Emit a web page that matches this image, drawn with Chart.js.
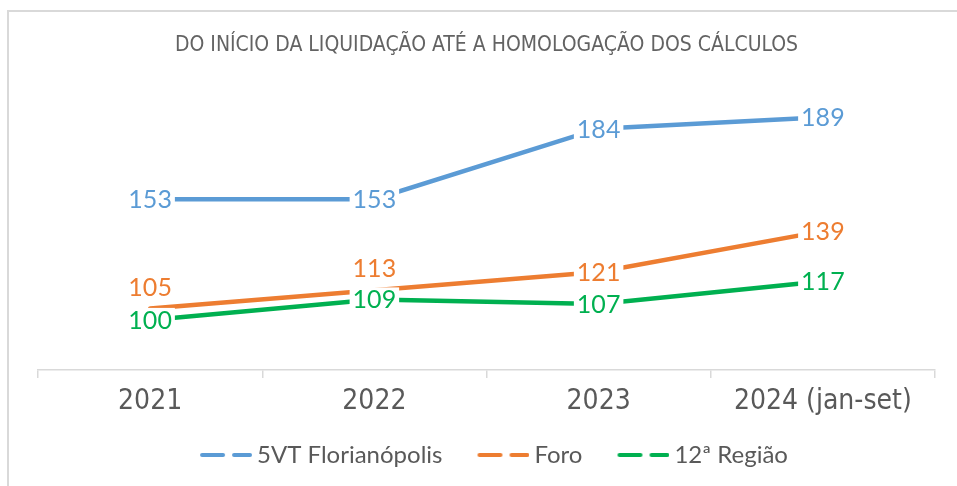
<!DOCTYPE html>
<html>
<head>
<meta charset="utf-8">
<script src="https://cdn.jsdelivr.net/npm/chart.js@4"></script>
<style>
  html, body { margin: 0; padding: 0; background: #fff; }
  #wrap { position: relative; width: 957px; height: 486px; overflow: hidden; }
  #frame { position: absolute; left: 7px; top: 10px; width: 1000px; height: 600px; border: 2px solid #d9d9d9; box-sizing: border-box; }
  #chartContainer { position: absolute; left: 0; top: 0; }
</style>
</head>
<body>
<div id="wrap">
  <div id="frame"></div>
  <canvas id="chartContainer" width="957" height="486"></canvas>
</div>
<script>
// dados do gráfico
const anos = ["2021", "2022", "2023", "2024 (jan-set)"];
const vtFloripa = [153, 153, 184, 189];
const foro = [105, 113, 121, 139];
const regiao12 = [100, 109, 107, 117];
// posição do rótulo: "c" = centro, "t" = acima
const posForo = ["t", "t", "c", "c"];

const azul = "#5B9BD5";
const laranja = "#ED7D31";
const verde = "#00B050";
const cinza = "#595959";
const fonteEstreita = "'DejaVu Sans Condensed', 'Liberation Sans Narrow', sans-serif";
const fonteRotulo = "Lato, 'Noto Sans', sans-serif";

// marcador tracejado da legenda (traços à direita da imagem, perto do texto)
function marcador(cor) {
    const c = document.createElement("canvas");
    c.width = 74;
    c.height = 8;
    const ctx = c.getContext("2d");
    ctx.strokeStyle = cor;
    ctx.lineWidth = 4;
    ctx.lineCap = "round";
    ctx.beginPath();
    ctx.moveTo(24, 4); ctx.lineTo(45, 4);
    ctx.moveTo(56, 4); ctx.lineTo(72, 4);
    ctx.stroke();
    return c;
}
const marcadores = [marcador(azul), marcador(laranja), marcador(verde)];

// rótulos com fundo branco, desenhados depois das linhas
const rotulos = {
    id: "rotulos",
    afterDatasetsDraw(chart) {
        const ctx = chart.ctx;
        ctx.save();
        ctx.font = "25px " + fonteRotulo;
        ctx.textAlign = "center";
        ctx.textBaseline = "middle";
        chart.data.datasets.forEach((ds, i) => {
            const meta = chart.getDatasetMeta(i);
            meta.data.forEach((pt, j) => {
                const txt = String(ds.data[j]);
                const pos = ds.posicoes ? ds.posicoes[j] : "c";
                const x = pt.x;
                const y = pos === "t" ? pt.y - 22 : pt.y;
                const w = ctx.measureText(txt).width + 6;
                const h = 24;
                ctx.fillStyle = "#fff";
                ctx.fillRect(x - w / 2, y - h / 2, w, h);
                ctx.fillStyle = ds.borderColor;
                ctx.fillText(txt, x, y + 1);
            });
        });
        ctx.restore();
    }
};

new Chart("chartContainer", {
    type: "line",
    data: {
        labels: anos,
        datasets: [
            { label: "5VT Florianópolis", data: vtFloripa, borderColor: azul, backgroundColor: azul },
            { label: "Foro", data: foro, borderColor: laranja, backgroundColor: laranja, posicoes: posForo },
            { label: "12ª Região", data: regiao12, borderColor: verde, backgroundColor: verde }
        ]
    },
    options: {
        responsive: false,
        animation: false,
        events: [],
        elements: {
            line: { borderWidth: 4.5, tension: 0, borderCapStyle: "round" },
            point: { radius: 0 }
        },
        layout: { padding: { left: 38, right: 22, top: 10, bottom: 9 } },
        scales: {
            x: {
                offset: true,
                grid: { offset: true, drawOnChartArea: false, drawTicks: true, tickLength: 8, color: "#d9d9d9", lineWidth: 1.5 },
                border: { display: true, color: "#d9d9d9", width: 1.5 },
                ticks: { color: cinza, padding: 7, font: { family: fonteEstreita, size: 28 } },
                afterFit(scale) { scale.height = 53; }
            },
            y: {
                display: false,
                min: 78,
                max: 200
            }
        },
        plugins: {
            title: {
                display: true,
                text: "DO INÍCIO DA LIQUIDAÇÃO ATÉ A HOMOLOGAÇÃO DOS CÁLCULOS",
                color: "#636363",
                font: { family: fonteEstreita, size: 21, weight: "normal" },
                padding: { top: 23, bottom: 34 }
            },
            legend: {
                position: "bottom",
                labels: {
                    usePointStyle: true,
                    pointStyleWidth: 60,
                    padding: 20,
                    color: cinza,
                    font: { family: fonteRotulo, size: 24 },
                    generateLabels(chart) {
                        const itens = Chart.defaults.plugins.legend.labels.generateLabels(chart);
                        itens.forEach((it, i) => { it.pointStyle = marcadores[i]; });
                        return itens;
                    }
                }
            },
            tooltip: { enabled: false }
        }
    },
    plugins: [rotulos]
});
</script>
</body>
</html>
